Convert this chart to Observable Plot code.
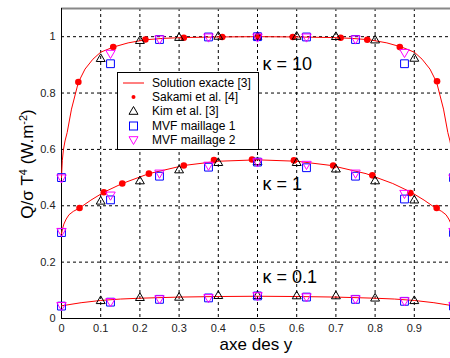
<!DOCTYPE html>
<html><head><meta charset="utf-8">
<script src="https://cdn.jsdelivr.net/npm/d3@7"></script>
<script src="https://cdn.jsdelivr.net/npm/@observablehq/plot@0.6"></script>
<style>
body{margin:0;background:#fff;overflow:hidden;font-family:"Liberation Sans",Arial,sans-serif;}
#wrap{position:relative;width:450px;height:358px;overflow:hidden;}
#wrap > svg{max-width:none !important;width:454px;height:358px;display:block;}
#legend{position:absolute;left:117px;top:72px;width:142px;height:78px;box-sizing:border-box;border:1px solid #000;background:#fff;}
.row{position:absolute;left:0;width:140px;height:14px;line-height:14px;font-size:12px;color:#000;}
.row svg{position:absolute;left:3px;top:0;}
.row span{position:absolute;left:34px;white-space:nowrap;}
</style></head><body><div id="wrap"></div>
<script>
// ---- data ----
const seriesNames = ["Solution exacte [3]", "Sakami et al. [4]", "Kim et al. [3]", "MVF maillage 1", "MVF maillage 2"];
const kappaLabels = ["\u03BA = 10", "\u03BA = 1", "\u03BA = 0.1"];
const kappaLabelX = [0.513, 0.513, 0.513];
const kappaLabelY = [0.904, 0.475, 0.145];

// exact solution curves
const exactX_k10 = [0, 0.002, 0.005, 0.009, 0.0145, 0.0255, 0.043, 0.06, 0.08, 0.1, 0.132, 0.17, 0.214, 0.26, 0.312, 0.4, 0.5, 0.6, 0.688, 0.74, 0.786, 0.83, 0.868, 0.9, 0.92, 0.94, 0.957, 0.9745, 0.9855, 0.991, 0.995, 0.998, 1];
const exactY_k10 = [0.5, 0.56, 0.6, 0.63, 0.66, 0.743, 0.838, 0.885, 0.92, 0.945, 0.963, 0.978, 0.989, 0.994, 0.997, 0.999, 1.0, 0.999, 0.997, 0.994, 0.989, 0.978, 0.963, 0.945, 0.92, 0.885, 0.838, 0.743, 0.66, 0.63, 0.6, 0.56, 0.5];
const exactX_k1 = [0, 0.003, 0.006, 0.012, 0.019, 0.03, 0.046, 0.075, 0.108, 0.155, 0.223, 0.312, 0.4, 0.5, 0.6, 0.688, 0.777, 0.845, 0.892, 0.925, 0.954, 0.97, 0.981, 0.988, 0.994, 0.997, 1];
const exactY_k1 = [0.3, 0.32, 0.335, 0.353, 0.368, 0.38, 0.392, 0.42, 0.448, 0.479, 0.514, 0.543, 0.558, 0.563, 0.558, 0.543, 0.514, 0.479, 0.448, 0.42, 0.392, 0.38, 0.368, 0.353, 0.335, 0.32, 0.3];
const exactX_k01 = [0, 0.05, 0.1, 0.15, 0.2, 0.3, 0.4, 0.5, 0.6, 0.7, 0.8, 0.85, 0.9, 0.95, 1];
const exactY_k01 = [0.045, 0.056, 0.064, 0.069, 0.072, 0.076, 0.078, 0.079, 0.078, 0.076, 0.072, 0.069, 0.064, 0.056, 0.045];

// Sakami et al. [4]
const sakamiX_k10 = [0.043, 0.132, 0.214, 0.312, 0.41, 0.503, 0.59, 0.712, 0.78, 0.863, 0.958];
const sakamiY_k10 = [0.839, 0.963, 0.99, 0.996, 0.999, 1.0, 0.999, 0.996, 0.989, 0.963, 0.842];
const sakamiX_k1 = [0.046, 0.108, 0.155, 0.223, 0.312, 0.389, 0.486, 0.593, 0.693, 0.793, 0.89, 0.957];
const sakamiY_k1 = [0.392, 0.448, 0.479, 0.514, 0.543, 0.562, 0.564, 0.561, 0.543, 0.508, 0.445, 0.392];

// Kim et al. [3]
const kimX = [0.1, 0.2, 0.3, 0.4, 0.5, 0.6, 0.7, 0.8, 0.9];
const kimY_k10 = [0.921, 0.985, 0.996, 1.0, 1.0, 1.0, 0.999, 0.987, 0.922];
const kimY_k1 = [0.415, 0.487, 0.526, 0.552, 0.555, 0.552, 0.529, 0.487, 0.419];
const kimY_k01 = [0.062, 0.073, 0.074, 0.080, 0.080, 0.079, 0.079, 0.071, 0.062];

// MVF maillage 1 / 2
const mvfX = [0, 0.125, 0.25, 0.375, 0.5, 0.625, 0.75, 0.875, 1];
const mvf1Y_k10 = [0.5, 0.904, 0.99, 0.999, 1.0, 0.999, 0.99, 0.904, 0.5];
const mvf2Y_k10 = [0.5, 0.942, 0.993, 1.0, 1.0, 1.0, 0.993, 0.945, 0.5];
const mvf1Y_k1 = [0.305, 0.421, 0.505, 0.537, 0.555, 0.535, 0.505, 0.424, 0.305];
const mvf2Y_k1 = [0.31, 0.439, 0.517, 0.545, 0.557, 0.548, 0.517, 0.445, 0.31];
const mvf1Y_k01 = [0.044, 0.058, 0.068, 0.073, 0.080, 0.076, 0.068, 0.061, 0.044];
const mvf2Y_k01 = [0.047, 0.061, 0.071, 0.075, 0.082, 0.078, 0.071, 0.064, 0.047];

// axes
const xTicks = [0, 0.1, 0.2, 0.3, 0.4, 0.5, 0.6, 0.7, 0.8, 0.9];
const xTickLabels = ["0", "0.1", "0.2", "0.3", "0.4", "0.5", "0.6", "0.7", "0.8", "0.9"];
const yTicks = [0, 0.2, 0.4, 0.6, 0.8, 1];
const yTickLabels = ["0", "0.2", "0.4", "0.6", "0.8", "1"];
const xGrid = [0.1, 0.2, 0.3, 0.4, 0.5, 0.6, 0.7, 0.8, 0.9, 1];
const yGrid = [0.2, 0.4, 0.6, 0.8, 1];
const xDomain = [0, 1];
const yDomain = [0, 1.1];
const xLabel = "axe des y";

// ---- build tables ----
const zip = (xs, ys, k) => xs.map((x, i) => ({x, y: ys[i], k}));
const exact = [...zip(exactX_k10, exactY_k10, "10"), ...zip(exactX_k1, exactY_k1, "1"), ...zip(exactX_k01, exactY_k01, "0.1")];
const sakami = [...zip(sakamiX_k10, sakamiY_k10, "10"), ...zip(sakamiX_k1, sakamiY_k1, "1")];
const kim = [...zip(kimX, kimY_k10, "10"), ...zip(kimX, kimY_k1, "1"), ...zip(kimX, kimY_k01, "0.1")];
const mvf1 = [...zip(mvfX, mvf1Y_k10, "10"), ...zip(mvfX, mvf1Y_k1, "1"), ...zip(mvfX, mvf1Y_k01, "0.1")];
const mvf2 = [...zip(mvfX, mvf2Y_k10, "10"), ...zip(mvfX, mvf2Y_k1, "1"), ...zip(mvfX, mvf2Y_k01, "0.1")];
const kLabels = kappaLabels.map((t, i) => ({t, x: kappaLabelX[i], y: kappaLabelY[i]}));

const triangleDown = {
  draw(context, size) {
    const s3 = Math.sqrt(3);
    const y = -Math.sqrt(size / (s3 * 3));
    context.moveTo(0, -y * 2);
    context.lineTo(-s3 * y, y);
    context.lineTo(s3 * y, y);
    context.closePath();
  }
};

const chart = Plot.plot({
  width: 454, height: 358,
  marginLeft: 61, marginRight: 1, marginTop: 8, marginBottom: 40,
  style: {fontFamily: "Liberation Sans, Arial, sans-serif", fontSize: "11px", color: "#222", background: "#fff", overflow: "visible", maxWidth: "none"},
  x: {domain: xDomain, ticks: xTicks, tickFormat: d => xTickLabels[xTicks.indexOf(d)] ?? "", tickSize: 0, tickPadding: 6, label: null},
  y: {domain: yDomain, ticks: yTicks, tickFormat: d => yTickLabels[yTicks.indexOf(d)] ?? "", tickSize: 0, tickPadding: 6, label: null},
  marks: [
    Plot.ruleX(xGrid, {stroke: "#000", strokeDasharray: "3,3", strokeWidth: 1}),
    Plot.ruleY(yGrid, {stroke: "#000", strokeDasharray: "3,3", strokeWidth: 1}),
    Plot.ruleY([yDomain[1]], {stroke: "#888", strokeWidth: 2}),
    Plot.ruleX([0], {stroke: "#000"}),
    Plot.ruleY([0], {stroke: "#000"}),
    Plot.line(exact, {x: "x", y: "y", z: "k", stroke: "#ff0000", strokeWidth: 1}),
    Plot.dot(sakami, {x: "x", y: "y", r: 3.3, fill: "#ff0000", stroke: "none"}),
    Plot.dot(kim, {x: "x", y: "y", r: 3.3, symbol: "triangle", stroke: "#000", fill: "none", strokeWidth: 1}),
    Plot.dot(mvf1, {x: "x", y: "y", r: 4.4, symbol: "square", stroke: "#0000ff", fill: "none", strokeWidth: 1}),
    Plot.dot(mvf2, {x: "x", y: "y", r: 3.5, symbol: triangleDown, stroke: "#ff00ff", fill: "none", strokeWidth: 1}),
    Plot.text(kLabels, {x: "x", y: "y", text: "t", textAnchor: "start", fontSize: 18, fill: "#000"})
  ]
});

const svg = d3.select(chart);
// x axis label
svg.append("text")
  .attr("x", 256).attr("y", 350)
  .attr("text-anchor", "middle")
  .attr("font-size", 17)
  .attr("fill", "#000")
  .text(xLabel);
// y axis label with superscripts
const yl = svg.append("text")
  .attr("transform", "translate(33,164) rotate(-90)")
  .attr("text-anchor", "middle")
  .attr("font-size", 17)
  .attr("fill", "#000");
yl.append("tspan").text("Q/\u03C3 T");
yl.append("tspan").attr("dy", -6).attr("font-size", 11).text("4");
yl.append("tspan").attr("dy", 6).text(" (W.m");
yl.append("tspan").attr("dy", -6).attr("font-size", 11).text("-2");
yl.append("tspan").attr("dy", 6).text(")");

const wrap = document.getElementById("wrap");
wrap.appendChild(chart);

// legend overlay
const legend = document.createElement("div");
legend.id = "legend";
const sym = [
  '<line x1="2" y1="7" x2="23" y2="7" stroke="#ff0000" stroke-width="1"/>',
  '<circle cx="12.5" cy="7" r="2" fill="#ff0000"/>',
  '<path d="M12.5,2.5 L17,10.3 L8,10.3 Z" fill="none" stroke="#000"/>',
  '<rect x="8.5" y="3" width="8" height="8" fill="none" stroke="#0000ff"/>',
  '<path d="M12.5,11.5 L17,3.7 L8,3.7 Z" fill="none" stroke="#ff00ff"/>'
];
seriesNames.forEach((name, i) => {
  const row = document.createElement("div");
  row.className = "row";
  row.style.top = (2.5 + i * 14.4) + "px";
  row.innerHTML = '<svg width="26" height="14">' + sym[i] + '</svg><span></span>';
  row.querySelector("span").textContent = name;
  legend.appendChild(row);
});
wrap.appendChild(legend);
</script></body></html>
